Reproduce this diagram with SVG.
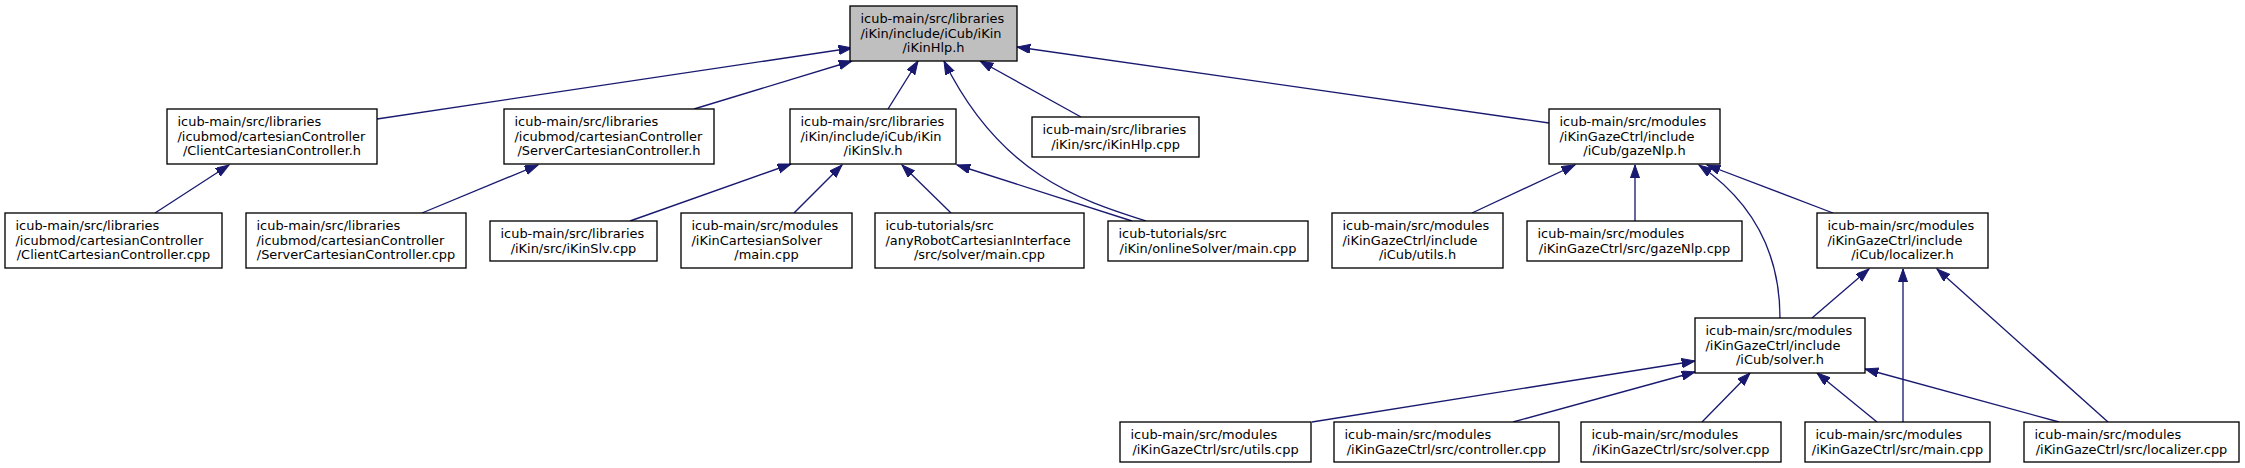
<svg xmlns="http://www.w3.org/2000/svg" width="2245" height="468" viewBox="0 0 2245 468">
<style>
.n rect{fill:#ffffff;stroke:#000000;stroke-width:1.33}
.n.root rect{fill:#bfbfbf}
.n text{font-family:"DejaVu Sans","Liberation Sans",sans-serif;font-size:12.93px;fill:#000000}
.m{text-anchor:middle}
#edges path{fill:none;stroke:#191970;stroke-width:1.33;marker-end:url(#arr)}
</style>
<defs>
<marker id="arr" markerUnits="userSpaceOnUse" markerWidth="16" markerHeight="12" refX="13.3" refY="4.67" orient="auto">
<path d="M0,0 L13.3,4.67 L0,9.33 Z" fill="#191970" stroke="#191970" stroke-width="1"/>
</marker>
</defs>
<rect width="2245" height="468" fill="#ffffff"/>
<g id="edges">
<path d="M377,119 L852,48"/>
<path d="M694,109 L852,61"/>
<path d="M888,109 L918,61"/>
<path d="M1146,221 C1080,200 1000,175 944,61"/>
<path d="M1081,117 L980,61"/>
<path d="M1549,123 L1017,47"/>
<path d="M155,213 L229,165"/>
<path d="M422,213 L538,165"/>
<path d="M630,221 L791,164"/>
<path d="M794,213 L842,165"/>
<path d="M951,213 L902,165"/>
<path d="M1132,221 L957,165"/>
<path d="M1472,213 L1575,165"/>
<path d="M1635,221 L1635,165"/>
<path d="M1780,318 C1780,250 1750,200 1699,165"/>
<path d="M1833,213 L1707,165"/>
<path d="M1812,318 L1869,269"/>
<path d="M1903,422 L1903,269"/>
<path d="M2108,422 L1937,269"/>
<path d="M1312,422 L1695,361"/>
<path d="M1513,422 L1695,372"/>
<path d="M1702,422 L1750,373"/>
<path d="M1877,422 L1817,373"/>
<path d="M2059,422 L1865,369"/>
</g>
<g id="node_root" class="n root">
<rect x="850" y="6" width="167" height="55"/>
<text x="860.5" y="23">icub-main/src/libraries</text>
<text x="860.5" y="37.7">/iKin/include/iCub/iKin</text>
<text x="933.5" y="52.3" class="m">/iKinHlp.h</text>
</g>
<g id="node_client_h" class="n">
<rect x="167" y="109" width="210" height="55"/>
<text x="177.5" y="126">icub-main/src/libraries</text>
<text x="177.5" y="140.7">/icubmod/cartesianController</text>
<text x="272" y="155.3" class="m">/ClientCartesianController.h</text>
</g>
<g id="node_server_h" class="n">
<rect x="504" y="109" width="210" height="55"/>
<text x="514.5" y="126">icub-main/src/libraries</text>
<text x="514.5" y="140.7">/icubmod/cartesianController</text>
<text x="609" y="155.3" class="m">/ServerCartesianController.h</text>
</g>
<g id="node_ikinslv_h" class="n">
<rect x="790" y="109" width="166" height="55"/>
<text x="800.5" y="126">icub-main/src/libraries</text>
<text x="800.5" y="140.7">/iKin/include/iCub/iKin</text>
<text x="873" y="155.3" class="m">/iKinSlv.h</text>
</g>
<g id="node_ikinhlp_cpp" class="n">
<rect x="1032" y="117" width="167" height="40"/>
<text x="1042.5" y="134">icub-main/src/libraries</text>
<text x="1115.5" y="148.7" class="m">/iKin/src/iKinHlp.cpp</text>
</g>
<g id="node_gazenlp_h" class="n">
<rect x="1549" y="109" width="171" height="55"/>
<text x="1559.5" y="126">icub-main/src/modules</text>
<text x="1559.5" y="140.7">/iKinGazeCtrl/include</text>
<text x="1634.5" y="155.3" class="m">/iCub/gazeNlp.h</text>
</g>
<g id="node_client_cpp" class="n">
<rect x="5" y="213" width="217" height="55"/>
<text x="15.5" y="230">icub-main/src/libraries</text>
<text x="15.5" y="244.7">/icubmod/cartesianController</text>
<text x="113.5" y="259.3" class="m">/ClientCartesianController.cpp</text>
</g>
<g id="node_server_cpp" class="n">
<rect x="246" y="213" width="220" height="55"/>
<text x="256.5" y="230">icub-main/src/libraries</text>
<text x="256.5" y="244.7">/icubmod/cartesianController</text>
<text x="356" y="259.3" class="m">/ServerCartesianController.cpp</text>
</g>
<g id="node_ikinslv_cpp" class="n">
<rect x="490" y="221" width="167" height="40"/>
<text x="500.5" y="238">icub-main/src/libraries</text>
<text x="573.5" y="252.7" class="m">/iKin/src/iKinSlv.cpp</text>
</g>
<g id="node_cartsolver_main" class="n">
<rect x="681" y="213" width="171" height="55"/>
<text x="691.5" y="230">icub-main/src/modules</text>
<text x="691.5" y="244.7">/iKinCartesianSolver</text>
<text x="766.5" y="259.3" class="m">/main.cpp</text>
</g>
<g id="node_anyrobot_main" class="n">
<rect x="875" y="213" width="209" height="55"/>
<text x="885.5" y="230">icub-tutorials/src</text>
<text x="885.5" y="244.7">/anyRobotCartesianInterface</text>
<text x="979.5" y="259.3" class="m">/src/solver/main.cpp</text>
</g>
<g id="node_onlinesolver_main" class="n">
<rect x="1108" y="221" width="200" height="40"/>
<text x="1118.5" y="238">icub-tutorials/src</text>
<text x="1208" y="252.7" class="m">/iKin/onlineSolver/main.cpp</text>
</g>
<g id="node_utils_h" class="n">
<rect x="1332" y="213" width="171" height="55"/>
<text x="1342.5" y="230">icub-main/src/modules</text>
<text x="1342.5" y="244.7">/iKinGazeCtrl/include</text>
<text x="1417.5" y="259.3" class="m">/iCub/utils.h</text>
</g>
<g id="node_gazenlp_cpp" class="n">
<rect x="1527" y="221" width="215" height="40"/>
<text x="1537.5" y="238">icub-main/src/modules</text>
<text x="1634.5" y="252.7" class="m">/iKinGazeCtrl/src/gazeNlp.cpp</text>
</g>
<g id="node_localizer_h" class="n">
<rect x="1817" y="213" width="171" height="55"/>
<text x="1827.5" y="230">icub-main/src/modules</text>
<text x="1827.5" y="244.7">/iKinGazeCtrl/include</text>
<text x="1902.5" y="259.3" class="m">/iCub/localizer.h</text>
</g>
<g id="node_solver_h" class="n">
<rect x="1695" y="318" width="170" height="55"/>
<text x="1705.5" y="335">icub-main/src/modules</text>
<text x="1705.5" y="349.7">/iKinGazeCtrl/include</text>
<text x="1780" y="364.3" class="m">/iCub/solver.h</text>
</g>
<g id="node_utils_cpp" class="n">
<rect x="1120" y="422" width="191" height="40"/>
<text x="1130.5" y="439">icub-main/src/modules</text>
<text x="1215.5" y="453.7" class="m">/iKinGazeCtrl/src/utils.cpp</text>
</g>
<g id="node_controller_cpp" class="n">
<rect x="1334" y="422" width="225" height="40"/>
<text x="1344.5" y="439">icub-main/src/modules</text>
<text x="1446.5" y="453.7" class="m">/iKinGazeCtrl/src/controller.cpp</text>
</g>
<g id="node_solver_cpp" class="n">
<rect x="1581" y="422" width="200" height="40"/>
<text x="1591.5" y="439">icub-main/src/modules</text>
<text x="1681" y="453.7" class="m">/iKinGazeCtrl/src/solver.cpp</text>
</g>
<g id="node_main_cpp" class="n">
<rect x="1805" y="422" width="185" height="40"/>
<text x="1815.5" y="439">icub-main/src/modules</text>
<text x="1897.5" y="453.7" class="m">/iKinGazeCtrl/src/main.cpp</text>
</g>
<g id="node_localizer_cpp" class="n">
<rect x="2024" y="422" width="215" height="40"/>
<text x="2034.5" y="439">icub-main/src/modules</text>
<text x="2131.5" y="453.7" class="m">/iKinGazeCtrl/src/localizer.cpp</text>
</g>
</svg>
